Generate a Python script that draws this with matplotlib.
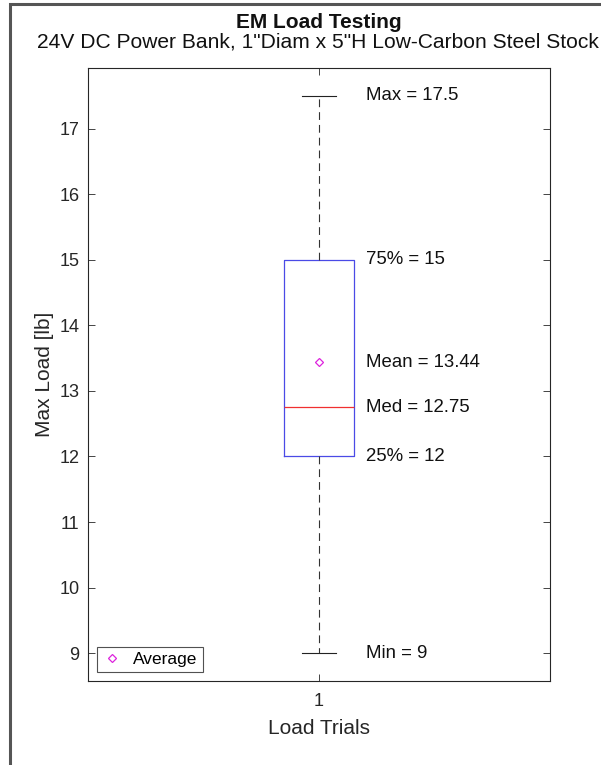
import matplotlib
matplotlib.use('Agg')
import matplotlib.pyplot as plt
from matplotlib.patches import Rectangle

plt.rcParams['font.family'] = ['Liberation Sans', 'DejaVu Sans']

# summary stats
stat_names = ['Max', '75%', 'Mean', 'Med', '25%', 'Min']
stat_vals = [17.5, 15, 13.44, 12.75, 12, 9]
x_pos = [1]
x_labels = ['1']
y_ticks = [9, 10, 11, 12, 13, 14, 15, 16, 17]

stats = [{
    'whislo': stat_vals[5], 'q1': stat_vals[4], 'med': stat_vals[3],
    'q3': stat_vals[1], 'whishi': stat_vals[0], 'mean': stat_vals[2],
    'fliers': [],
}]

fig = plt.figure(figsize=(6.01, 7.65), dpi=100)
# grey frame around the figure (left/top visible)
fig.patches.append(Rectangle((9.5/601, -0.1), 1.2, 1 - 4/765 + 0.1,
                             transform=fig.transFigure, fill=False,
                             edgecolor='#555555', linewidth=2.2))

ax = fig.add_axes([88/601, 1 - 681/765, 462/601, 613/765])

ax.bxp(stats, positions=x_pos, widths=0.15, showmeans=False,
       boxprops=dict(color='#4a4ae6', linewidth=0.9),
       medianprops=dict(color='#f03030', linewidth=0.9),
       whiskerprops=dict(color='#333333', linestyle=(0, (7, 4.5)), linewidth=0.8),
       capprops=dict(color='#222222', linewidth=0.8),
       capwidths=0.075)

ax.plot(x_pos, [stat_vals[2]], linestyle='none', marker='D', markersize=4,
        markerfacecolor='none', markeredgecolor='#dd22dd', markeredgewidth=0.9,
        label='Average')

for name, v in zip(stat_names, stat_vals):
    ax.text(1.102, v, f'{name} = {v:g}', fontsize=13.4, va='center', ha='left',
            color='#111111')

ax.set_xlim(0.5, 1.5)
ax.set_ylim(8.575, 17.925)
ax.set_xticks(x_pos)
ax.set_xticklabels(x_labels)
ax.set_yticks(y_ticks)
ax.tick_params(direction='in', top=True, right=True, labelsize=13,
               colors='#262626', length=5, width=0.6)
ax.tick_params(axis='x', pad=9)
ax.tick_params(axis='y', pad=6)
for s in ax.spines.values():
    s.set_color('#262626')
    s.set_linewidth(0.8)

ax.set_xlabel('Load Trials', fontsize=15, color='#262626', labelpad=6)
ax.set_ylabel('Max Load [lb]', fontsize=15, color='#262626', labelpad=4)

fig.text(319/601, 1 - 28/765, 'EM Load Testing', fontsize=15,
         fontweight='bold', ha='center', va='baseline', color='#111111')
fig.text(318/601, 1 - 47.5/765,
         '24V DC Power Bank, 1"Diam x 5"H Low-Carbon Steel Stock',
         fontsize=15.1, ha='center', va='baseline', color='#111111')

leg = ax.legend(loc='lower left', fontsize=12.5, frameon=True, fancybox=False,
                edgecolor='#262626', handlelength=1.2, borderpad=0.3,
                handletextpad=0.6, borderaxespad=0.5)
leg.get_frame().set_linewidth(0.8)

fig.savefig('out.png', dpi=100)
